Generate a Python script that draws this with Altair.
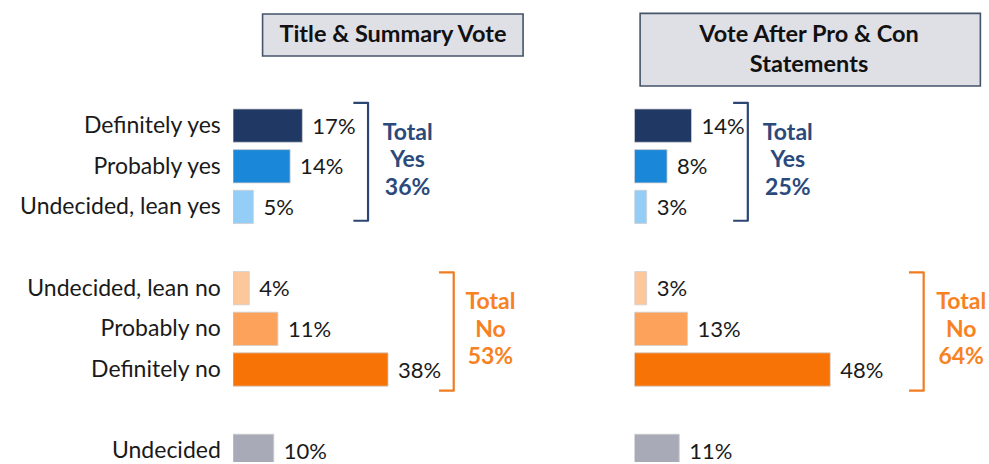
import altair as alt
import pandas as pd

# ---------------- data ----------------
categories = ["Definitely yes", "Probably yes", "Undecided, lean yes",
              "Undecided, lean no", "Probably no", "Definitely no", "Undecided"]
slots = [0, 1, 2, 4, 5, 6, 8]
title_summary = [17, 14, 5, 4, 11, 38, 10]
after_pro_con = [14, 8, 3, 3, 13, 48, 11]
bar_colors = ["#1f3864", "#1a87d8", "#94cdf5", "#fdc79c", "#fda25a", "#f87306", "#a8aab8"]

panel_titles = [["Title & Summary Vote"], ["Vote After Pro & Con", "Statements"]]
totals_yes = [36, 25]
totals_no = [53, 64]

# annotation placement (data units: percent on x, row slot on y)
title_box_x = [(7.25, 71.1), (1.4, 84.8)]
title_box_y = [(-2.745, -1.712), (-2.76, -0.975)]
title_text_x = [39.2, 42.8]
title_text_y = [-2.24, -2.24]
yes_bracket_x = [33.1, 27.8]
no_bracket_x = [54.1, 70.9]
bracket_arm = 3.6
yes_bracket_y = (-0.56, 2.34)
no_bracket_y = (3.61, 6.52)
yes_total_x = [42.8, 37.6]
no_total_x = [63.1, 80.1]
yes_total_y = 0.18
no_total_y = 4.34

NAVY = "#2c4674"
NAVY_TXT = "#2b4a7b"
ORANGE = "#f07c22"
ORANGE_TXT = "#f7821f"
FONT = "Lato"

PX_PER_PCT = 4.08
ROW_STEP = 40.65
Y_MIN = -3.09
PLOT_H = 462
Y_MAX = Y_MIN + PLOT_H / ROW_STEP

label_array = [""] * 9
for c, s in zip(categories, slots):
    label_array[s] = c
label_expr = "[" + ",".join("'" + l + "'" for l in label_array) + "][datum.value]"


def panel(idx, values, width, show_axis):
    dmax = width / PX_PER_PCT
    xs = alt.Scale(domain=[0, dmax], nice=False, zero=True, padding=0)
    ys = alt.Scale(domain=[Y_MIN, Y_MAX], nice=False, zero=False, reverse=True, padding=0)
    if show_axis:
        yaxis = alt.Axis(values=slots, labelExpr=label_expr, ticks=False, domain=False,
                         grid=False, title=None, labelFont=FONT, labelFontSize=23,
                         labelColor="#1a1a1a", labelPadding=12.7, labelLimit=400,
                         minExtent=232.7, maxExtent=232.7)
    else:
        yaxis = None

    df = pd.DataFrame({"cat": categories, "slot": slots, "val": values, "color": bar_colors})

    bars = alt.Chart(df).mark_bar(orient="horizontal", size=33.3, stroke="#cfcfcf",
                                  strokeWidth=0.8, clip=True).encode(
        x=alt.X("val:Q", scale=xs, axis=None),
        y=alt.Y("slot:Q", scale=ys, axis=yaxis),
        color=alt.Color("color:N", scale=None),
    )
    vlabels = alt.Chart(df).mark_text(align="left", baseline="middle", dx=10, dy=1,
                                      font=FONT, fontSize=22, color="#1a1a1a").encode(
        x=alt.X("val:Q", scale=xs, axis=None),
        y=alt.Y("slot:Q", scale=ys, axis=yaxis),
        text=alt.Text("label:N"),
    ).transform_calculate(label="datum.val + '%'")

    # title box
    bx = pd.DataFrame({"x": [title_box_x[idx][0]], "x2": [title_box_x[idx][1]],
                       "y": [title_box_y[idx][0]], "y2": [title_box_y[idx][1]]})
    box = alt.Chart(bx).mark_rect(fill="#dfdfe6", stroke="#44546a", strokeWidth=1.6).encode(
        x=alt.X("x:Q", scale=xs, axis=None), x2="x2:Q",
        y=alt.Y("y:Q", scale=ys, axis=yaxis), y2="y2:Q",
    )
    tt = pd.DataFrame({"x": [title_text_x[idx]], "y": [title_text_y[idx]],
                       "t": [panel_titles[idx]]})
    ttext = alt.Chart(tt).mark_text(align="center", baseline="middle", font=FONT,
                                    fontSize=23.5, fontWeight="bold", color="#111111",
                                    lineHeight=30).encode(
        x=alt.X("x:Q", scale=xs, axis=None),
        y=alt.Y("y:Q", scale=ys, axis=yaxis),
        text="t",
    )

    # brackets
    def bracket(xv, yr, color):
        pts = pd.DataFrame({
            "x": [xv - bracket_arm, xv, xv, xv - bracket_arm],
            "y": [yr[0], yr[0], yr[1], yr[1]],
            "o": [0, 1, 2, 3],
        })
        return alt.Chart(pts).mark_line(color=color, strokeWidth=2.2,
                                        strokeJoin="round").encode(
            x=alt.X("x:Q", scale=xs, axis=None),
            y=alt.Y("y:Q", scale=ys, axis=yaxis),
            order="o:O",
        )

    byes = bracket(yes_bracket_x[idx], yes_bracket_y, NAVY)
    bno = bracket(no_bracket_x[idx], no_bracket_y, ORANGE)

    tot = pd.DataFrame({
        "x": [yes_total_x[idx], no_total_x[idx]],
        "y": [yes_total_y, no_total_y],
        "t": [["Total", "Yes", f"{totals_yes[idx]}%"], ["Total", "No", f"{totals_no[idx]}%"]],
        "c": [NAVY_TXT, ORANGE_TXT],
    })
    ttot = alt.Chart(tot).mark_text(align="center", baseline="middle", font=FONT,
                                    fontSize=23, fontWeight="bold", lineHeight=27.5).encode(
        x=alt.X("x:Q", scale=xs, axis=None),
        y=alt.Y("y:Q", scale=ys, axis=yaxis),
        text="t",
        color=alt.Color("c:N", scale=None),
    )

    return alt.layer(box, ttext, bars, vlabels, byes, bno, ttot).properties(
        width=width, height=PLOT_H)


W1 = 367.2
W2 = 352
p1 = panel(0, title_summary, W1, True)
p2 = panel(1, after_pro_con, W2, False)

chart = alt.hconcat(p1, p2, spacing=400.6 - W1).properties(
    padding=0, background="white"
).configure_view(stroke=None)

chart.save("out.html", embed_options={"renderer": "svg", "actions": False})
